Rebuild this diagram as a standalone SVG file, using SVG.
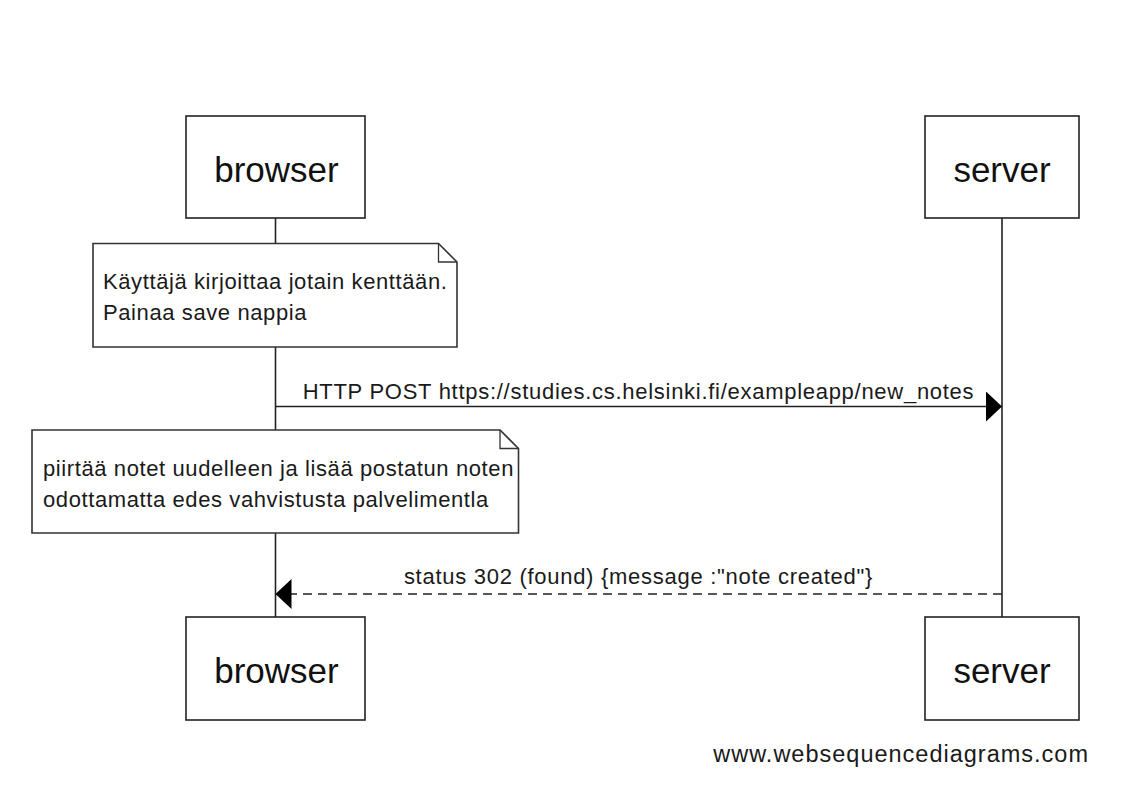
<svg xmlns="http://www.w3.org/2000/svg" width="1127" height="797" viewBox="0 0 1127 797">
<style>
.box{fill:#fff;stroke:#222;stroke-width:1.6}
.note{fill:#fff;stroke:#333;stroke-width:1.6}
.fold{fill:none;stroke:#333;stroke-width:1.3}
.life{stroke:#222;stroke-width:1.6;fill:none}
.msg{stroke:#222;stroke-width:1.6;fill:none}
.dash{stroke-dasharray:9 6}
.lbl{font-family:"Liberation Sans",Arial,sans-serif;font-size:35px;fill:#111;text-anchor:middle}
.t{font-family:"Liberation Sans",Arial,sans-serif;font-size:22px;letter-spacing:0.6px;fill:#1a1a1a}
.m{font-family:"Liberation Sans",Arial,sans-serif;font-size:22px;letter-spacing:0.72px;fill:#1a1a1a;text-anchor:middle}
.foot{font-family:"Liberation Sans",Arial,sans-serif;font-size:23.5px;letter-spacing:1px;fill:#1a1a1a;text-anchor:end}
</style>
<defs>
<marker id="ah" viewBox="0 0 16 30" refX="16" refY="15" markerWidth="16" markerHeight="30" markerUnits="userSpaceOnUse" orient="auto">
<path d="M0,0 L16,15 L0,30 Z" fill="#000"/>
</marker>
</defs>
<rect width="1127" height="797" fill="#fff"/>
<g id="lifelines">
<line class="life" x1="275.5" y1="218" x2="275.5" y2="617"/>
<line class="life" x1="1002" y1="218" x2="1002" y2="617"/>
</g>
<g id="browser-top">
<rect class="box" x="186" y="116" width="179" height="102"/>
<text class="lbl" x="276.5" y="181.5">browser</text>
</g>
<g id="server-top">
<rect class="box" x="925" y="116" width="154" height="102"/>
<text class="lbl" x="1002" y="181.5">server</text>
</g>
<g id="note1">
<path class="note" d="M93,243.5 H438.5 L457,262 V347 H93 Z"/>
<path class="fold" d="M438.5,243.5 V262 H457"/>
<text class="t" x="103" y="289">Käyttäjä kirjoittaa jotain kenttään.</text>
<text class="t" x="103" y="320">Painaa save nappia</text>
</g>
<g id="note2">
<path class="note" d="M32,430 H500 L518.5,448.5 V533 H32 Z"/>
<path class="fold" d="M500,430 V448.5 H518.5"/>
<text class="t" x="43" y="475.5">piirtää notet uudelleen ja lisää postatun noten</text>
<text class="t" x="43" y="506.5">odottamatta edes vahvistusta palvelimentla</text>
</g>
<g id="connectors">
<line class="msg" x1="275.5" y1="406.5" x2="1002" y2="406.5" marker-end="url(#ah)"/>
<text class="m" x="638.5" y="398.5">HTTP POST https://studies.cs.helsinki.fi/exampleapp/new_notes</text>
<line class="msg dash" x1="1002" y1="594" x2="275.5" y2="594" marker-end="url(#ah)"/>
<text class="m" x="638.5" y="584">status 302 (found) {message :"note created"}</text>
</g>
<g id="browser-bottom">
<rect class="box" x="186" y="617" width="179" height="103"/>
<text class="lbl" x="276.5" y="682.5">browser</text>
</g>
<g id="server-bottom">
<rect class="box" x="925" y="617" width="154" height="103"/>
<text class="lbl" x="1002" y="682.5">server</text>
</g>
<text class="foot" x="1089" y="761.5">www.websequencediagrams.com</text>
</svg>
